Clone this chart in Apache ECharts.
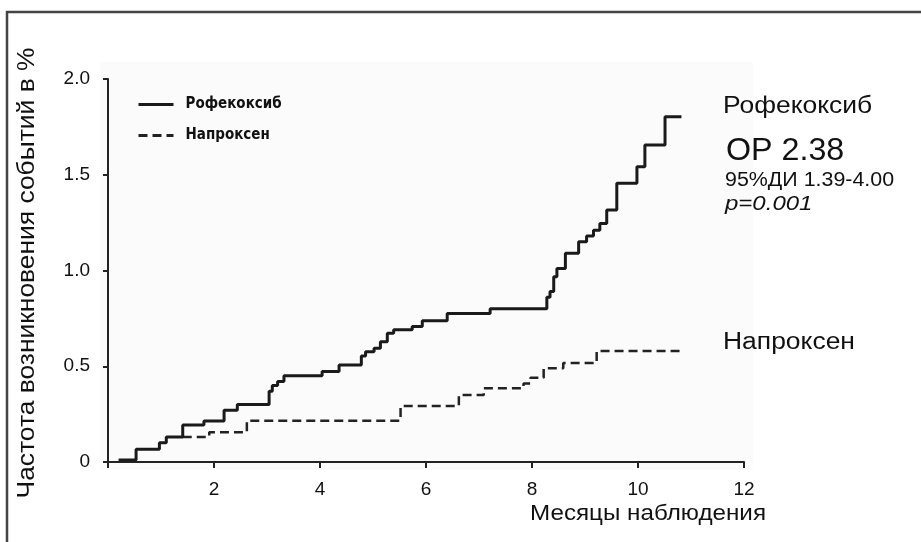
<!DOCTYPE html>
<html>
<head>
<meta charset="utf-8">
<script src="https://cdn.jsdelivr.net/npm/echarts@6/dist/echarts.min.js"></script>
<style>
html,body{margin:0;padding:0;background:#fff;}
#chart{width:921px;height:542px;}
</style>
</head>
<body>
<div id="chart"></div>
<script>
// Data (months, % of events)
var seriesNames = ['Рофекоксиб', 'Напроксен'];
var rofecoxib = [
  [0.2, 0.01], [0.53, 0.066], [0.97, 0.1], [1.1, 0.13], [1.41, 0.193],
  [1.81, 0.214], [2.19, 0.27], [2.44, 0.3], [3.04, 0.37], [3.1, 0.4],
  [3.2, 0.42], [3.32, 0.45], [4.04, 0.472], [4.36, 0.507], [4.78, 0.553],
  [4.86, 0.576], [5.02, 0.594], [5.14, 0.628], [5.27, 0.672], [5.39, 0.69],
  [5.74, 0.707], [5.93, 0.738], [6.4, 0.776], [7.21, 0.8], [8.28, 0.86],
  [8.34, 0.89], [8.41, 0.968], [8.47, 1.01], [8.63, 1.09], [8.88, 1.15],
  [9.03, 1.18], [9.16, 1.21], [9.28, 1.246], [9.41, 1.316], [9.6, 1.455],
  [9.98, 1.542], [10.13, 1.655], [10.51, 1.803], [10.82, 1.803]
];
var naproxen = [
  [1.41, 0.13], [1.91, 0.155], [2.62, 0.216], [5.52, 0.292], [6.62, 0.35],
  [7.09, 0.385], [7.84, 0.41], [7.97, 0.44], [8.22, 0.49], [8.59, 0.517],
  [9.22, 0.58], [10.85, 0.58]
];
var xTicks = [0, 2, 4, 6, 8, 10, 12];
var yTicks = [0, 0.5, 1.0, 1.5, 2.0];
var yAxisTitle = 'Частота возникновения событий в %';
var xAxisTitle = 'Месяцы наблюдения';
var annotations = ['Рофекоксиб', 'ОР 2.38', '95%ДИ 1.39-4.00', 'p=0.001', 'Напроксен'];

var FONT = '"Liberation Sans", Arial, sans-serif';
var chart = echarts.init(document.getElementById('chart'), null, {renderer: 'canvas'});

function txt(s, x, y, font, sx, extra) {
  var o = {type: 'text', x: x, y: y, scaleX: sx || 1, silent: true,
    style: {text: s, font: font, fill: '#111', textVerticalAlign: 'middle'}};
  if (extra) { for (var k in extra) { if (k === 'style') { for (var j in extra.style) o.style[j] = extra.style[j]; } else o[k] = extra[k]; } }
  return o;
}

var option = {
  animation: false,
  backgroundColor: '#ffffff',
  grid: {left: 108, right: 177, top: 79, bottom: 80},
  legend: {
    orient: 'vertical',
    left: 137, top: 97, padding: 0,
    itemWidth: 35, itemHeight: 14, itemGap: 16,
    data: seriesNames,
    itemStyle: {opacity: 0},
    lineStyle: {width: 3},
    textStyle: {fontFamily: '"Liberation Sans Narrow", "DejaVu Sans Condensed", sans-serif', fontWeight: 'bold', fontSize: 15, color: '#111', padding: [0, 0, 0, 7]}
  },
  xAxis: {
    type: 'value', min: 0, max: 12, interval: 2,
    axisLine: {show: true, onZero: false, lineStyle: {color: '#222', width: 2}},
    axisTick: {show: true, length: 6, lineStyle: {color: '#222', width: 2}},
    splitLine: {show: false},
    axisLabel: {
      margin: 18, color: '#111', fontSize: 19, fontFamily: FONT,
      formatter: function (v) { return v === 0 ? '' : String(v); }
    }
  },
  yAxis: {
    type: 'value', min: 0, max: 2, interval: 0.5,
    axisLine: {show: true, lineStyle: {color: '#222', width: 2}},
    axisTick: {show: true, length: 5, lineStyle: {color: '#222', width: 2}},
    splitLine: {show: false},
    axisLabel: {
      margin: 18, color: '#111', fontSize: 19, fontFamily: FONT,
      formatter: function (v) { return v === 0 ? '0' : v.toFixed(1); }
    }
  },
  graphic: [
    {type: 'rect', z: -10, silent: true, shape: {x: 100, y: 62, width: 653, height: 408}, style: {fill: '#fbfbfb'}},
    {type: 'rect', z: 100, silent: true, shape: {x: 7, y: 12, width: 1000, height: 600}, style: {fill: 'none', stroke: '#444', lineWidth: 2.5}},
    txt(yAxisTitle, 27, 273, '24px ' + FONT, 1.1, {rotation: Math.PI / 2, style: {textAlign: 'center'}}),
    txt(annotations[0], 723, 107, '23px ' + FONT, 1.15),
    txt(annotations[1], 726, 151, '31px ' + FONT, 1.04),
    txt(annotations[2], 725, 180, '20px ' + FONT, 1.07),
    txt(annotations[3], 725, 204, 'italic 20px ' + FONT, 1.2),
    txt(annotations[4], 723, 343, '23px ' + FONT, 1.15),
    txt(xAxisTitle, 648, 514, '22px ' + FONT, 1.1, {style: {textAlign: 'center'}})
  ],
  series: [
    {
      name: seriesNames[0], type: 'line', step: 'end', data: rofecoxib,
      symbol: 'none', z: 3,
      lineStyle: {color: '#1a1a1a', width: 3, type: 'solid'},
      itemStyle: {color: '#1a1a1a'}
    },
    {
      name: seriesNames[1], type: 'line', step: 'end', data: naproxen,
      symbol: 'none', z: 2,
      lineStyle: {color: '#222', width: 2.5, type: [9, 5]},
      itemStyle: {color: '#222'}
    }
  ]
};
chart.setOption(option);
</script>
</body>
</html>
